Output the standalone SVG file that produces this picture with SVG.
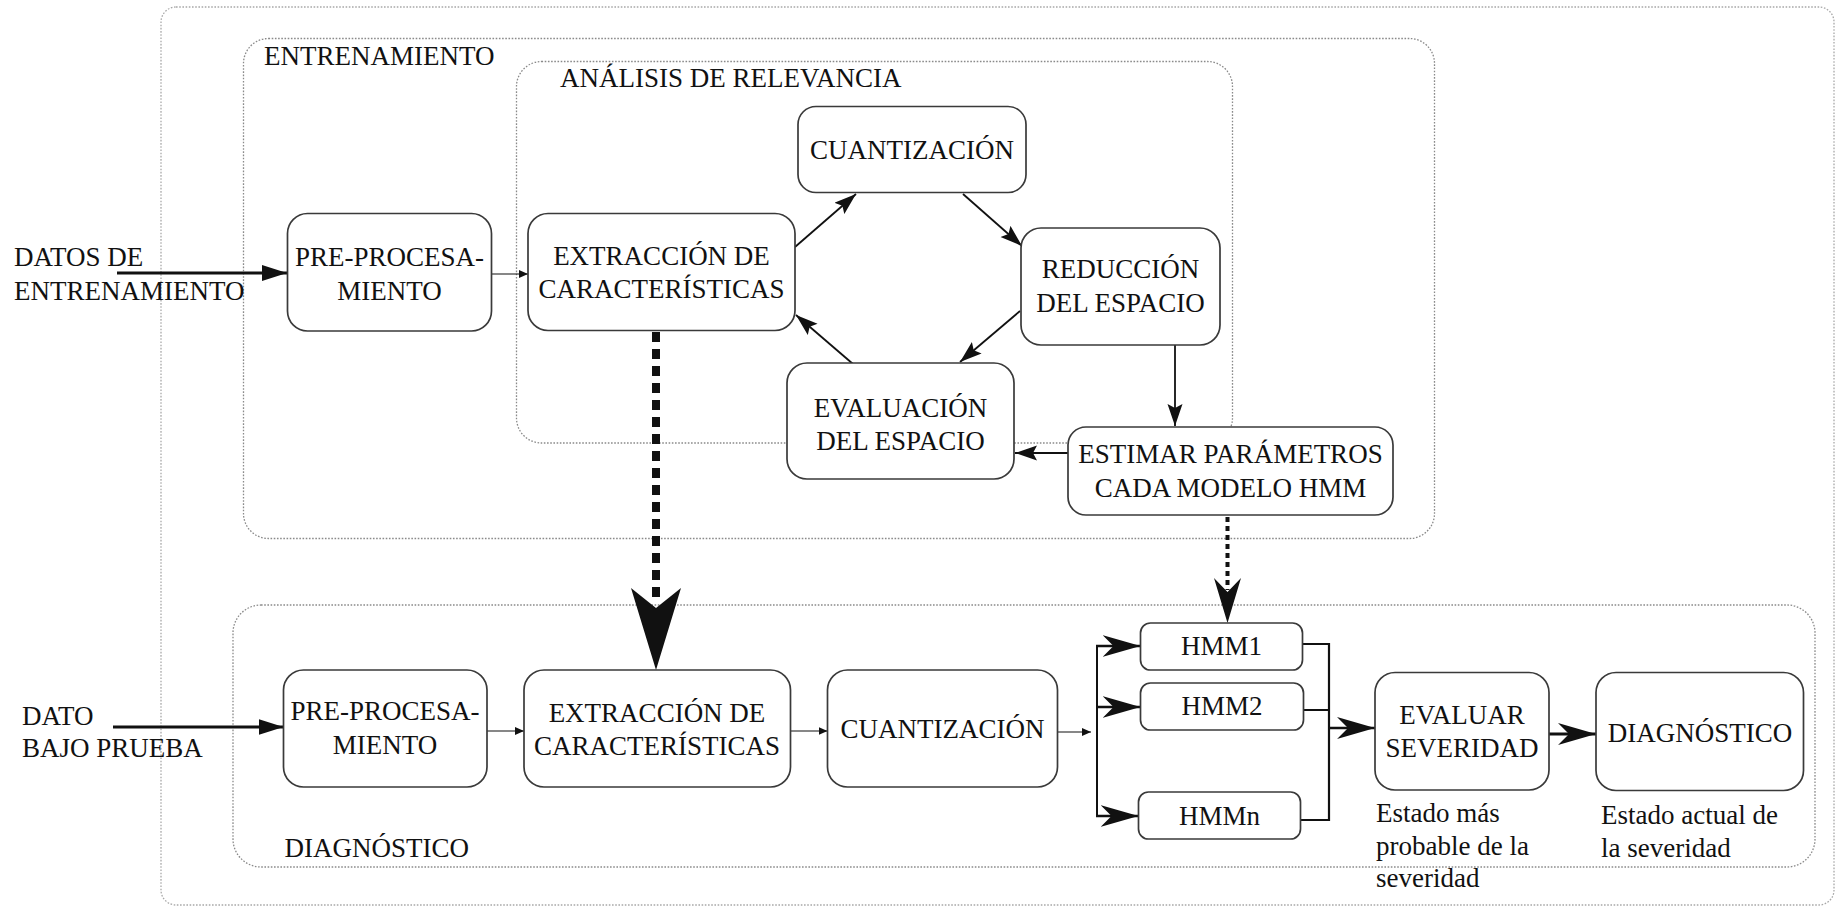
<svg xmlns="http://www.w3.org/2000/svg" width="1838" height="907" viewBox="0 0 1838 907">
<style>
  .frame{fill:none;stroke:#8a8a8a;stroke-width:1.3;stroke-dasharray:1.6,1.6}
  .outer{fill:none;stroke:#a8a8a8;stroke-width:1.3;stroke-dasharray:1.6,1.6}
  .box{fill:#fff;stroke:#3a3a3a;stroke-width:1.7}
  .t{font-family:"Liberation Serif","DejaVu Serif",serif;font-size:27px;fill:#111}
  .c{text-anchor:middle}
  .ln{fill:none;stroke:#111}
</style>
<defs>
  <marker id="tri" markerUnits="userSpaceOnUse" markerWidth="26" markerHeight="18" refX="25" refY="8" orient="auto">
    <path d="M0,0 L25,8 L0,16 z" fill="#111"/>
  </marker>
  <marker id="mid" markerUnits="userSpaceOnUse" markerWidth="24" markerHeight="16" refX="22" refY="7.5" orient="auto">
    <path d="M0,0 L22,7.5 L0,15 L4,7.5 z" fill="#111"/>
  </marker>
  <marker id="small" markerUnits="userSpaceOnUse" markerWidth="10" markerHeight="9" refX="9" refY="4" orient="auto">
    <path d="M0,0 L9,4 L0,8 z" fill="#111"/>
  </marker>
  <marker id="barb" markerUnits="userSpaceOnUse" markerWidth="40" markerHeight="24" refX="38" refY="11" orient="auto">
    <path d="M0,0 L38,11 L0,22 L11,11 z" fill="#111"/>
  </marker>
</defs>
<rect width="1838" height="907" fill="#fff"/>

<g id="frames">
  <rect class="outer" x="161" y="7" width="1673" height="898" rx="15"/>
  <rect class="frame" x="243.5" y="38.5" width="1191" height="500" rx="25"/>
  <rect class="frame" x="516.5" y="61.5" width="716" height="381.5" rx="25"/>
  <rect class="frame" x="233" y="605" width="1582" height="262" rx="28"/>
  <text class="t" x="264" y="65">ENTRENAMIENTO</text>
  <text class="t" x="560" y="87">ANÁLISIS DE RELEVANCIA</text>
  <text class="t" x="284.5" y="857">DIAGNÓSTICO</text>
</g>

<g id="labels">
  <text class="t" x="14" y="266">DATOS DE</text>
  <text class="t" x="14" y="300">ENTRENAMIENTO</text>
  <text class="t" x="22" y="725">DATO</text>
  <text class="t" x="22" y="757">BAJO PRUEBA</text>
  <text class="t" x="1376" y="822">Estado más</text>
  <text class="t" x="1376" y="855">probable de la</text>
  <text class="t" x="1376" y="887">severidad</text>
  <text class="t" x="1601" y="823.5">Estado actual de</text>
  <text class="t" x="1601" y="857">la severidad</text>
</g>

<g id="connectors">
  <line class="ln" x1="117" y1="273" x2="287" y2="273" stroke-width="3" marker-end="url(#tri)"/>
  <line class="ln" x1="491.5" y1="274" x2="528" y2="274" stroke-width="1.2" marker-end="url(#small)"/>
  <line class="ln" x1="795" y1="247" x2="856" y2="194" stroke-width="1.8" marker-end="url(#mid)"/>
  <line class="ln" x1="963" y1="194" x2="1022" y2="246" stroke-width="1.8" marker-end="url(#mid)"/>
  <line class="ln" x1="1020" y1="311" x2="960" y2="362" stroke-width="1.8" marker-end="url(#mid)"/>
  <line class="ln" x1="853" y1="364" x2="796" y2="315" stroke-width="1.8" marker-end="url(#mid)"/>
  <line class="ln" x1="1175" y1="345" x2="1175" y2="426" stroke-width="1.8" marker-end="url(#mid)"/>
  <line class="ln" x1="1068" y1="453" x2="1015" y2="453" stroke-width="1.8" marker-end="url(#mid)"/>
  <line class="ln" x1="656" y1="332" x2="656" y2="600" stroke-width="8" stroke-dasharray="10,7"/>
  <polygon points="631,588 656,608 681,588 656,670" fill="#111"/>
  <line class="ln" x1="1227.5" y1="517" x2="1227.5" y2="590" stroke-width="4" stroke-dasharray="5,4"/>
  <polygon points="1214,578 1227.5,592 1241,578 1227.5,623" fill="#111"/>
  <line class="ln" x1="113" y1="727" x2="283.5" y2="727" stroke-width="3" marker-end="url(#tri)"/>
  <line class="ln" x1="487" y1="731" x2="524" y2="731" stroke-width="1.2" marker-end="url(#small)"/>
  <line class="ln" x1="790.5" y1="731" x2="827.5" y2="731" stroke-width="1.2" marker-end="url(#small)"/>
  <line class="ln" x1="1057.5" y1="732" x2="1091" y2="732" stroke-width="1.2" marker-end="url(#small)"/>
  <line class="ln" x1="1097" y1="645" x2="1097" y2="817" stroke-width="2"/>
  <line class="ln" x1="1096" y1="646" x2="1140.5" y2="646" stroke-width="2.5" marker-end="url(#barb)"/>
  <line class="ln" x1="1096" y1="707" x2="1140.5" y2="707" stroke-width="2.5" marker-end="url(#barb)"/>
  <line class="ln" x1="1096" y1="816" x2="1138.5" y2="816" stroke-width="2.5" marker-end="url(#barb)"/>
  <path class="ln" d="M1302.5,644 H1329 V820 H1300.5" stroke-width="2.2"/>
  <line class="ln" x1="1303.5" y1="710" x2="1329" y2="710" stroke-width="2"/>
  <line class="ln" x1="1329" y1="728" x2="1375" y2="728" stroke-width="2.5" marker-end="url(#barb)"/>
  <line class="ln" x1="1549" y1="734" x2="1596" y2="734" stroke-width="3" marker-end="url(#barb)"/>
</g>

<g id="pre1">
  <rect class="box" x="287.5" y="213.5" width="204" height="117.5" rx="20"/>
  <text class="t c" x="389.5" y="266">PRE-PROCESA-</text>
  <text class="t c" x="389.5" y="300">MIENTO</text>
</g>
<g id="ext1">
  <rect class="box" x="528" y="213.5" width="267" height="117" rx="20"/>
  <text class="t c" x="661.5" y="265">EXTRACCIÓN DE</text>
  <text class="t c" x="661.5" y="298">CARACTERÍSTICAS</text>
</g>
<g id="cuant1">
  <rect class="box" x="798" y="106.5" width="228" height="86" rx="18"/>
  <text class="t c" x="912" y="158.5">CUANTIZACIÓN</text>
</g>
<g id="red">
  <rect class="box" x="1021" y="228" width="199" height="117" rx="20"/>
  <text class="t c" x="1120.5" y="278">REDUCCIÓN</text>
  <text class="t c" x="1120.5" y="311.5">DEL ESPACIO</text>
</g>
<g id="eval">
  <rect class="box" x="787" y="363" width="227" height="116" rx="20"/>
  <text class="t c" x="900.5" y="416.5">EVALUACIÓN</text>
  <text class="t c" x="900.5" y="450">DEL ESPACIO</text>
</g>
<g id="estim">
  <rect class="box" x="1068" y="427" width="325" height="88" rx="18"/>
  <text class="t c" x="1230.5" y="463">ESTIMAR PARÁMETROS</text>
  <text class="t c" x="1230.5" y="496.5">CADA MODELO HMM</text>
</g>
<g id="pre2">
  <rect class="box" x="283.5" y="670" width="203.5" height="117" rx="20"/>
  <text class="t c" x="385" y="720">PRE-PROCESA-</text>
  <text class="t c" x="385" y="753.5">MIENTO</text>
</g>
<g id="ext2">
  <rect class="box" x="524" y="670" width="266.5" height="117" rx="20"/>
  <text class="t c" x="657" y="721.5">EXTRACCIÓN DE</text>
  <text class="t c" x="657" y="755">CARACTERÍSTICAS</text>
</g>
<g id="cuant2">
  <rect class="box" x="827.5" y="670" width="230" height="117" rx="20"/>
  <text class="t c" x="942.5" y="738">CUANTIZACIÓN</text>
</g>
<g id="hmm1">
  <rect class="box" x="1140.5" y="623" width="162" height="47" rx="10"/>
  <text class="t c" x="1221.5" y="655">HMM1</text>
</g>
<g id="hmm2">
  <rect class="box" x="1140.5" y="683" width="163" height="47" rx="10"/>
  <text class="t c" x="1222" y="715">HMM2</text>
</g>
<g id="hmmn">
  <rect class="box" x="1138.5" y="792" width="162" height="47" rx="10"/>
  <text class="t c" x="1219.5" y="825">HMMn</text>
</g>
<g id="evalsev">
  <rect class="box" x="1375" y="672.5" width="174" height="117.5" rx="20"/>
  <text class="t c" x="1462" y="724">EVALUAR</text>
  <text class="t c" x="1462" y="757">SEVERIDAD</text>
</g>
<g id="diag">
  <rect class="box" x="1596" y="672.5" width="207.5" height="118" rx="20"/>
  <text class="t c" x="1700" y="741.5">DIAGNÓSTICO</text>
</g>
</svg>
